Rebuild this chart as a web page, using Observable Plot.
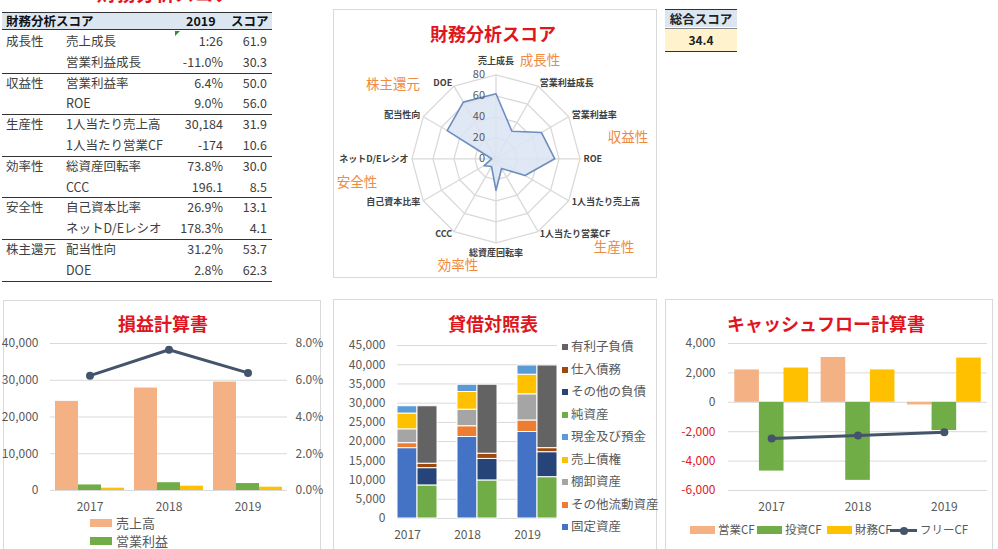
<!DOCTYPE html>
<html><head><meta charset="utf-8">
<script src="https://cdn.jsdelivr.net/npm/d3@7"></script>
<script src="https://cdn.jsdelivr.net/npm/@observablehq/plot@0.6"></script>
<style>
body{margin:0;background:#fff;font-family:"Noto Sans CJK JP","Noto Sans",sans-serif;}
#root{position:relative;width:998px;height:549px;overflow:hidden;background:#fff;}
.abs{position:absolute;white-space:nowrap;}
.panel{position:absolute;border:1px solid #d9d9d9;box-sizing:border-box;background:#fff;}
.title{position:absolute;color:#e0161e;font-weight:bold;font-size:18px;transform:translate(-50%,-50%);white-space:nowrap;line-height:1;}
.cat{position:absolute;color:#f08a3e;font-size:13.5px;transform:translate(-50%,-50%);white-space:nowrap;line-height:1;}
.tcell{position:absolute;font-size:12.5px;color:#404040;line-height:20.8px;white-space:nowrap;}
.hline{position:absolute;height:0;border-top:1px solid #333;}
.plot{position:absolute;}
.leg{position:absolute;font-size:12.5px;color:#595959;line-height:1;white-space:nowrap;}
.sw{position:absolute;}
</style></head>
<body><div id="root"></div>
<script>
// ---------------- data ----------------
const years = ["2017", "2018", "2019"];

const tblGroups = ["成長性", "収益性", "生産性", "効率性", "安全性", "株主還元"];
const tblItems = ["売上成長", "営業利益成長", "営業利益率", "ROE", "1人当たり売上高", "1人当たり営業CF",
  "総資産回転率", "CCC", "自己資本比率", "ネットD/Eレシオ", "配当性向", "DOE"];
const tblValues = ["1:26", "-11.0%", "6.4%", "9.0%", "30,184", "-174", "73.8%", "196.1", "26.9%", "178.3%", "31.2%", "2.8%"];
const tblScores = [61.9, 30.3, 50.0, 56.0, 31.9, 10.6, 30.0, 8.5, 13.1, 4.1, 53.7, 62.3];
const totalScore = "34.4";

const radarAxes = ["売上成長", "営業利益成長", "営業利益率", "ROE", "1人当たり売上高", "1人当たり営業CF",
  "総資産回転率", "CCC", "自己資本比率", "ネットD/Eレシオ", "配当性向", "DOE"];
const radarScores = [61.9, 30.3, 50.0, 56.0, 31.9, 10.6, 30.0, 8.5, 13.1, 4.1, 53.7, 62.3];
const radarTicks = [0, 20, 40, 60, 80];

const isSeries = ["売上高", "営業利益", "当期純利益"];
const isSales = [24250, 27880, 29500];
const isOpProfit = [1510, 2120, 1890];
const isNetIncome = [630, 1170, 900];
const isOpMargin = [6.25, 7.66, 6.4];
const isLeftTicks = [0, 10000, 20000, 30000, 40000];
const isRightTicks = [0, 2, 4, 6, 8];

const assetSeries = ["固定資産", "その他流動資産", "棚卸資産", "売上債権", "現金及び預金"];
const assetValues = [
  [18300, 21200, 22500],
  [1300, 2800, 3000],
  [3600, 4300, 6800],
  [4100, 4600, 5100],
  [1900, 1900, 2400]
];
const liabSeries = ["純資産", "その他の負債", "仕入債務", "有利子負債"];
const liabValues = [
  [8600, 9900, 10750],
  [4500, 5600, 6500],
  [1150, 1350, 1050],
  [14950, 17950, 21500]
];
const bsTicks = [0, 5000, 10000, 15000, 20000, 25000, 30000, 35000, 40000, 45000];

const cfSeries = ["営業CF", "投資CF", "財務CF"];
const cfOperating = [2200, 3050, -180];
const cfInvesting = [-4680, -5310, -1920];
const cfFinancing = [2330, 2200, 3010];
const cfFree = [-2470, -2260, -2030];
const cfTicks = [-6000, -4000, -2000, 0, 2000, 4000];

// ---------------- styles ----------------
const isColors = ["#f4b183", "#70ad47", "#ffc000"];
const assetColors = ["#4472c4", "#ed7d31", "#a5a5a5", "#ffc000", "#5b9bd5"];
const liabColors = ["#70ad47", "#264478", "#9e480e", "#636363"];
const cfColors = ["#f4b183", "#70ad47", "#ffc000"];
const lineColor = "#44546a";
const gridColor = "#d9d9d9";
const fmt = d => d.toLocaleString("en-US");
const plotStyle = {fontSize: "12px", fontFamily: "'Noto Sans CJK JP', 'Noto Sans', sans-serif", color: "#595959", background: "transparent", overflow: "visible"};

const root = document.getElementById("root");
function el(cls, css, text) {
  const d = document.createElement("div");
  d.className = cls;
  Object.assign(d.style, css);
  if (text !== undefined) d.textContent = text;
  root.appendChild(d);
  return d;
}
function place(svg, left, top) {
  const w = document.createElement("div");
  w.className = "plot";
  w.style.left = left + "px"; w.style.top = top + "px";
  w.appendChild(svg);
  root.appendChild(w);
}

// ---------------- score table ----------------
el("abs", {left: "165px", top: "-17px", fontSize: "19.5px", fontWeight: "bold", color: "#e0161e", transform: "translateX(-50%)", lineHeight: "20px"}, "財務分析スコア");
el("abs", {left: "2px", top: "12px", width: "270px", height: "18px", background: "#dce6f1", borderTop: "1px solid #333", borderBottom: "1px solid #333", boxSizing: "border-box"});
el("abs", {left: "6px", top: "12px", fontSize: "12.5px", fontWeight: "bold", color: "#111", lineHeight: "18px"}, "財務分析スコア");
el("abs", {left: "186px", top: "12px", fontSize: "12.5px", fontWeight: "bold", color: "#111", lineHeight: "18px"}, "2019");
el("abs", {left: "231px", top: "12px", fontSize: "12.5px", fontWeight: "bold", color: "#111", lineHeight: "18px"}, "スコア");
const rowH = 20.8, row0 = 31;
tblItems.forEach((item, i) => {
  const top = row0 + i * rowH;
  if (i % 2 === 0) el("tcell", {left: "6px", top: top + "px"}, tblGroups[i / 2]);
  el("tcell", {left: "66px", top: top + "px"}, item);
  el("tcell", {left: "150px", width: "73px", textAlign: "right", top: top + "px"}, tblValues[i]);
  el("tcell", {left: "230px", width: "37px", textAlign: "right", top: top + "px"}, tblScores[i].toFixed(1));
  if (i % 2 === 1) el("hline", {left: "2px", width: "270px", top: (row0 + (i + 1) * rowH) + "px"});
});
// green indicator triangle
el("abs", {left: "175px", top: "31px", width: 0, height: 0, borderTop: "5px solid #2e8b3a", borderRight: "5px solid transparent"});

// total score
el("abs", {left: "665px", top: "9px", width: "72px", height: "18px", background: "#dce6f1", borderTop: "1px solid #333", boxSizing: "border-box", textAlign: "center", fontSize: "12.5px", fontWeight: "bold", color: "#222", lineHeight: "17px"}, "総合スコア");
el("abs", {left: "665px", top: "28px", width: "72px", height: "24px", background: "#fff2cc", borderTop: "1px solid #888", borderBottom: "1.5px solid #333", boxSizing: "border-box", textAlign: "center", fontSize: "12px", fontWeight: "bold", color: "#222", lineHeight: "22px"}, totalScore);

// ---------------- radar ----------------
el("panel", {left: "333px", top: "9px", width: "324px", height: "269px"});
el("title", {left: "493px", top: "33px"}, "財務分析スコア");
{
  const N = radarAxes.length;
  const ang = i => 2 * Math.PI * i / N;
  const maxT = d3.max(radarTicks);
  const W = 324, H = 269, cx = 162.5, cy = 149.3, k = 84 / maxT;
  const grid = radarTicks.slice(1).flatMap(l => radarAxes.map((a, i) => ({l, x: l * Math.sin(ang(i)), y: l * Math.cos(ang(i))})));
  const spokes = radarAxes.map((a, i) => ({x: maxT * Math.sin(ang(i)), y: maxT * Math.cos(ang(i))}));
  const pts = radarScores.map((v, i) => ({x: v * Math.sin(ang(i)), y: v * Math.cos(ang(i))}));
  const labs = radarAxes.map((a, i) => ({a, s: Math.sin(ang(i)), c: Math.cos(ang(i))}));
  const Rs = 87.5 / k, Rt = 97.5 / k, Rb = 94 / k;
  const labStyle = {fill: "#404040", fontSize: 9, fontWeight: "bold"};
  const svg = Plot.plot({
    width: W, height: H, margin: 0, style: plotStyle,
    x: {domain: [-cx / k, (W - cx) / k], axis: null},
    y: {domain: [-(H - cy) / k, cy / k], axis: null},
    marks: [
      Plot.line(grid, {x: "x", y: "y", z: "l", curve: "linear-closed", stroke: gridColor, strokeWidth: 1.3}),
      Plot.link(spokes, {x1: 0, y1: 0, x2: "x", y2: "y", stroke: gridColor, strokeWidth: 1.3}),
      Plot.line(pts, {x: "x", y: "y", curve: "linear-closed", fill: "#dae3f3", fillOpacity: 0.85, stroke: "#6c8ebf", strokeWidth: 1.6}),
      Plot.text(radarTicks, {x: 0, y: d => d, text: d => String(d), textAnchor: "end", dx: -11, fill: "#595959", fontSize: 11}),
      Plot.text(labs.filter(d => d.s > 0.1), {x: d => Rs * d.s, y: d => Rs * d.c, text: "a", textAnchor: "start", ...labStyle}),
      Plot.text(labs.filter(d => d.s < -0.1), {x: d => Rs * d.s, y: d => Rs * d.c, text: "a", textAnchor: "end", ...labStyle}),
      Plot.text(labs.filter(d => Math.abs(d.s) <= 0.1 && d.c > 0), {x: 0, y: Rt, text: "a", ...labStyle}),
      Plot.text(labs.filter(d => Math.abs(d.s) <= 0.1 && d.c < 0), {x: 0, y: -Rb, text: "a", ...labStyle})
    ]
  });
  place(svg, 333, 9);
}
el("cat", {left: "540px", top: "60px"}, "成長性");
el("cat", {left: "393px", top: "84px"}, "株主還元");
el("cat", {left: "628px", top: "137px"}, "収益性");
el("cat", {left: "357px", top: "182px"}, "安全性");
el("cat", {left: "614px", top: "247px"}, "生産性");
el("cat", {left: "458px", top: "265px"}, "効率性");

// ---------------- income statement ----------------
el("panel", {left: "3px", top: "300px", width: "318px", height: "260px"});
el("title", {left: "163px", top: "323px"}, "損益計算書");
{
  const data = years.flatMap((yr, i) => [isSales[i], isOpProfit[i], isNetIncome[i]].map((v, s) => ({i, s, v})));
  const yMax = d3.max(isLeftTicks), pMax = d3.max(isRightTicks);
  const off = 0.0635, bw = 0.291;
  const line = years.map((yr, i) => ({x: i + 0.5, y: isOpMargin[i] / pMax * yMax}));
  const svg = Plot.plot({
    width: 317, height: 182, marginTop: 10, marginBottom: 25, marginLeft: 47, marginRight: 33, style: plotStyle,
    x: {type: "linear", domain: [0, years.length], axis: null},
    y: {domain: [0, yMax], axis: null},
    color: {type: "identity"},
    marks: [
      Plot.gridY({ticks: isLeftTicks, stroke: gridColor, strokeOpacity: 1}),
      Plot.rectY(data, {x1: d => d.i + off + d.s * bw, x2: d => d.i + off + (d.s + 1) * bw, y1: 0, y2: "v", fill: d => isColors[d.s]}),
      Plot.axisY({ticks: isLeftTicks, tickSize: 0, tickPadding: 12, tickFormat: fmt, label: null}),
      Plot.axisY({anchor: "right", ticks: isLeftTicks, tickSize: 0, tickPadding: 8, tickFormat: d => (d / yMax * pMax).toFixed(1) + "%", label: null}),
      Plot.axisX({ticks: years.map((y, i) => i + 0.5), tickFormat: d => years[Math.floor(d)], tickSize: 0, tickPadding: 12, label: null}),
      Plot.line(line, {x: "x", y: "y", stroke: lineColor, strokeWidth: 3}),
      Plot.dot(line, {x: "x", y: "y", r: 4, fill: lineColor})
    ]
  });
  place(svg, 3, 333);
  isSeries.slice(0, 2).forEach((s, j) => {
    el("sw", {left: "90px", top: (519 + j * 17.5) + "px", width: "22px", height: "8px", background: isColors[j]});
    el("leg", {left: "116px", top: (516 + j * 17.5) + "px", fontSize: "13px"}, s);
  });
}

// ---------------- balance sheet ----------------
el("panel", {left: "333px", top: "299px", width: "324px", height: "260px"});
el("title", {left: "493px", top: "323px"}, "貸借対照表");
{
  const rects = [];
  const step = 1.5, half = 0.5;
  years.forEach((yr, i) => {
    let c = 0;
    assetSeries.forEach((s, j) => { const v = assetValues[j][i]; rects.push({x1: step * i, x2: step * i + half, y1: c, y2: c + v, color: assetColors[j]}); c += v; });
    c = 0;
    liabSeries.forEach((s, j) => { const v = liabValues[j][i]; rects.push({x1: step * i + half, x2: step * i + 2 * half, y1: c, y2: c + v, color: liabColors[j]}); c += v; });
  });
  const svg = Plot.plot({
    width: 224, height: 208, marginTop: 10, marginBottom: 25, marginLeft: 64, marginRight: 0, style: plotStyle,
    x: {type: "linear", domain: [0, step * (years.length - 1) + 2 * half], axis: null},
    y: {domain: [0, d3.max(bsTicks)], axis: null},
    color: {type: "identity"},
    marks: [
      Plot.gridY({ticks: bsTicks, stroke: gridColor, strokeOpacity: 1}),
      Plot.rect(rects, {x1: "x1", x2: "x2", y1: "y1", y2: "y2", fill: "color", stroke: "white", strokeWidth: 1}),
      Plot.axisY({ticks: bsTicks, tickSize: 0, tickPadding: 12, tickFormat: fmt, label: null}),
      Plot.axisX({ticks: years.map((y, i) => step * i + half / 2), tickFormat: d => years[Math.round((d - half / 2) / step)], tickSize: 0, tickPadding: 12, label: null})
    ]
  });
  place(svg, 333, 335);
  const legNames = [...liabSeries].reverse().concat([...assetSeries].reverse());
  const legColors = [...liabColors].reverse().concat([...assetColors].reverse());
  legNames.forEach((s, j) => {
    const yc = 347 + j * 22.5;
    el("sw", {left: "562px", top: (yc - 3) + "px", width: "6px", height: "6px", background: legColors[j]});
    el("leg", {left: "571px", top: (yc - 7) + "px", fontSize: "12.5px"}, s);
  });
}

// ---------------- cash flow ----------------
el("panel", {left: "665px", top: "299px", width: "328px", height: "260px"});
el("title", {left: "826px", top: "323px"}, "キャッシュフロー計算書");
{
  const data = years.flatMap((yr, i) => [cfOperating[i], cfInvesting[i], cfFinancing[i]].map((v, s) => ({i, s, v})));
  const off = 0.073, bw = 0.285;
  const line = years.map((yr, i) => ({x: i + 0.5, y: cfFree[i]}));
  const svg = Plot.plot({
    width: 322, height: 182, marginTop: 10, marginBottom: 25, marginLeft: 63, marginRight: 0, style: plotStyle,
    x: {type: "linear", domain: [0, years.length], axis: null},
    y: {domain: [d3.min(cfTicks), d3.max(cfTicks)], axis: null},
    color: {type: "identity"},
    marks: [
      Plot.gridY({ticks: cfTicks, stroke: gridColor, strokeOpacity: 1}),
      Plot.rectY(data, {x1: d => d.i + off + d.s * bw, x2: d => d.i + off + (d.s + 1) * bw, y1: 0, y2: "v", fill: d => cfColors[d.s]}),
      Plot.axisY({ticks: cfTicks.filter(d => d >= 0), tickSize: 0, tickPadding: 13, tickFormat: fmt, label: null}),
      Plot.axisY({ticks: cfTicks.filter(d => d < 0), tickSize: 0, tickPadding: 13, tickFormat: fmt, fill: "#e0161e", label: null}),
      Plot.axisX({ticks: years.map((y, i) => i + 0.5), tickFormat: d => years[Math.floor(d)], tickSize: 0, tickPadding: 12, label: null}),
      Plot.line(line, {x: "x", y: "y", stroke: lineColor, strokeWidth: 3}),
      Plot.dot(line, {x: "x", y: "y", r: 4, fill: lineColor})
    ]
  });
  place(svg, 665, 333);
  const legX = [690, 757, 827];
  cfSeries.forEach((s, j) => {
    el("sw", {left: legX[j] + "px", top: "526px", width: "25px", height: "8px", background: cfColors[j]});
    el("leg", {left: (legX[j] + 28) + "px", top: "524px", fontSize: "11.5px"}, s);
  });
  el("sw", {left: "890px", top: "529px", width: "27px", height: "3px", background: lineColor});
  el("sw", {left: "900px", top: "526.5px", width: "8px", height: "8px", borderRadius: "50%", background: lineColor});
  el("leg", {left: "920px", top: "524px", fontSize: "11.5px"}, "フリーCF");
}
</script>
</body></html>
